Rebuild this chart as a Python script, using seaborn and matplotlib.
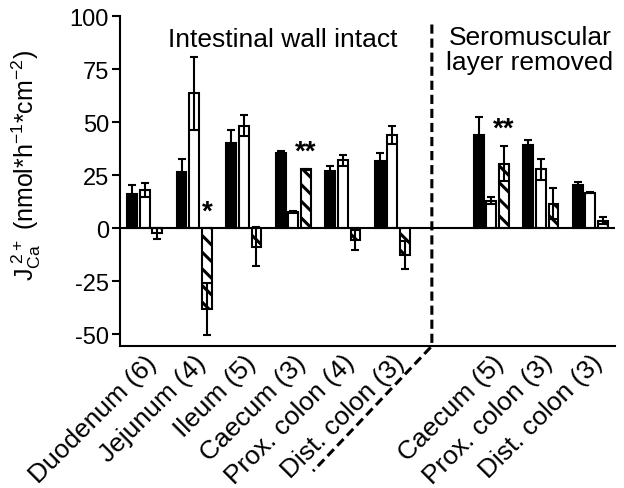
import numpy as np
import pandas as pd
import matplotlib.pyplot as plt
import seaborn as sns

# ---------------------------------------------------------
# data
# ---------------------------------------------------------
labels = ["Duodenum (6)", "Jejunum (4)", "Ileum (5)", "Caecum (3)",
          "Prox. colon (4)", "Dist. colon (3)", "",
          "Caecum (5)", "Prox. colon (3)", "Dist. colon (3)"]
keys = [f"{i}_{lab}" for i, lab in enumerate(labels)]

black = [16, 26.4, 40, 35.3, 26.9, 31.6, np.nan, 43.8, 39.1, 20.2]
black_err = [4.2, 6, 6.2, 1, 2.2, 3.7, np.nan, 8.7, 2.4, 1.6]
white = [18.2, 63.5, 48.3, 7.6, 32, 43.8, np.nan, 13, 27.7, 16.8]
white_err = [3.3, 17.3, 5, 0.5, 2.5, 4.3, np.nan, 1.6, 4.9, 0.4]
hatched = [-2.4, -38, -8.7, 27.7, -5.5, -12.7, np.nan, 30.4, 11.6, 3.6]
hatched_err = [2.6, 12.2, 9.2, 0.4, 4.8, 6.6, np.nan, 8.2, 7.2, 1.6]

conds = ["black", "white", "hatched"]
vals = {"black": black, "white": white, "hatched": hatched}
errs = {"black": black_err, "white": white_err, "hatched": hatched_err}

rows = []
for c in conds:
    for k, v in zip(keys, vals[c]):
        if not np.isnan(v):
            rows.append({"key": k, "cond": c, "value": v})
df = pd.DataFrame(rows)

# ---------------------------------------------------------
# style
# ---------------------------------------------------------
sns.set_style("ticks")
plt.rcParams["font.family"] = ["Liberation Sans", "DejaVu Sans"]
plt.rcParams["mathtext.fontset"] = "custom"
plt.rcParams["mathtext.rm"] = "Liberation Sans"
plt.rcParams["mathtext.it"] = "Liberation Sans"
plt.rcParams["axes.unicode_minus"] = False
plt.rcParams["hatch.linewidth"] = 2.2
plt.rcParams["hatch.color"] = "black"
for k in ["text.color", "axes.labelcolor", "axes.edgecolor",
          "xtick.color", "ytick.color"]:
    plt.rcParams[k] = "black"

fig = plt.figure(figsize=(6.24, 4.89), dpi=100)
ax = fig.add_axes([0.1923, 0.2904, 0.7933, 0.6748])

sns.barplot(data=df, x="key", y="value", hue="cond", order=keys,
            hue_order=conds, palette=["black", "white", "white"],
            edgecolor="black", linewidth=1.5, width=0.77, gap=0.22,
            errorbar=None, legend=False, ax=ax)

# hatch + error bars
for c, cont in zip(conds, ax.containers):
    for p in cont.patches:
        if c == "hatched":
            p.set_hatch("\\\\")
            p.set_hatch_linewidth(2.2)
        xc = p.get_x() + p.get_width() / 2
        idx = int(round(xc))
        v = vals[c][idx]
        ax.errorbar(xc, v, yerr=errs[c][idx], fmt="none", ecolor="black",
                    elinewidth=1.5, capsize=3, capthick=1.5, zorder=3)

ax.axhline(0, color="black", lw=1.5, zorder=4)

ax.set_xlim(-0.5, 9.5)
ax.set_ylim(-55.5, 100)
ax.set_yticks([-50, -25, 0, 25, 50, 75, 100])
ax.tick_params(axis="y", labelsize=17, length=6, width=1.5, pad=2)
ax.tick_params(axis="x", length=0, pad=3)
ax.set_xticks(range(len(labels)))
ax.set_xticklabels(labels, rotation=45, ha="right", va="top",
                   rotation_mode="anchor", fontsize=19)
sns.despine(ax=ax)
for s in ["left", "bottom"]:
    ax.spines[s].set_linewidth(1.5)

ax.set_xlabel("")
ax.set_ylabel(r"$\mathregular{J_{Ca}^{\ 2+}}$ (nmol*h$^{\mathregular{-1}}$*cm$^{\mathregular{-2}}$)",
              fontsize=18)
ax.yaxis.set_label_coords(-0.155, 0.55)

# panel captions
ax.text(2.79, 89, "Intestinal wall intact", ha="center", va="center", fontsize=19)
ax.text(7.78, 96, "Seromuscular\nlayer removed", ha="center", va="top",
        fontsize=19, linespacing=1.1)

# significance marks
ax.text(1.257, 8, "*", ha="center", va="center", fontsize=20, fontweight="bold")
ax.text(3.257, 36.3, "**", ha="center", va="center", fontsize=20, fontweight="bold")
ax.text(7.257, 47, "**", ha="center", va="center", fontsize=20, fontweight="bold")

# divider between the two panels
x_div = 5.8
ax.plot([x_div, x_div, x_div - 2.4], [96, -55.5, -114.5], color="black",
        lw=2.2, dashes=(3, 1.6), clip_on=False, zorder=5)

fig.savefig("out.png", dpi=100)
